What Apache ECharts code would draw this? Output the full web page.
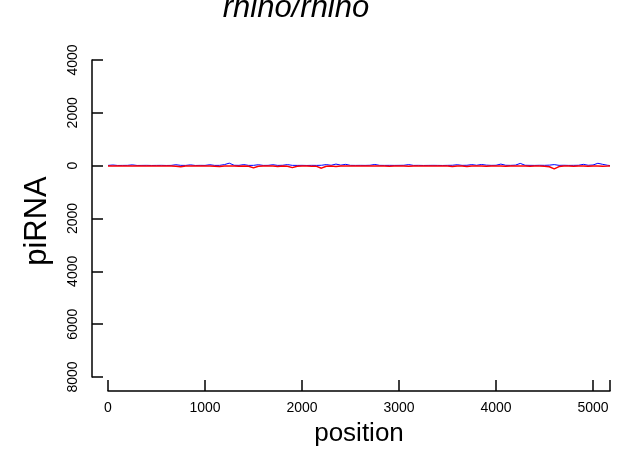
<!DOCTYPE html>
<html>
<head>
<meta charset="utf-8">
<script src="https://cdn.jsdelivr.net/npm/echarts@6/dist/echarts.min.js"></script>
<style>
html,body{margin:0;padding:0;background:#fff;}
#chart{width:620px;height:451px;}
</style>
</head>
<body>
<div id="chart"></div>
<script>
// ---- data ----
var chartTitle = 'rhino/rhino';
var xName = 'position';
var yName = 'piRNA';
var xTickLabels = [0, 1000, 2000, 3000, 4000, 5000];
var yTickLabels = [-8000, -6000, -4000, -2000, 0, 2000, 4000];

var positions = [
  0, 50, 100, 150, 200, 250, 300, 350, 400, 450,
  500, 550, 600, 650, 700, 750, 800, 850, 900, 950,
  1000, 1050, 1100, 1150, 1200, 1250, 1300, 1350, 1400, 1450,
  1500, 1550, 1600, 1650, 1700, 1750, 1800, 1850, 1900, 1950,
  2000, 2050, 2100, 2150, 2200, 2250, 2300, 2350, 2400, 2450,
  2500, 2550, 2600, 2650, 2700, 2750, 2800, 2850, 2900, 2950,
  3000, 3050, 3100, 3150, 3200, 3250, 3300, 3350, 3400, 3450,
  3500, 3550, 3600, 3650, 3700, 3750, 3800, 3850, 3900, 3950,
  4000, 4050, 4100, 4150, 4200, 4250, 4300, 4350, 4400, 4450,
  4500, 4550, 4600, 4650, 4700, 4750, 4800, 4850, 4900, 4950,
  5000, 5050, 5100, 5150, 5175
];

// sense-strand reads (blue, plotted upward)
var plusReads = [
  10, 25, 8, 10, 12, 30, 8, 10, 12, 8,
  10, 12, 8, 10, 35, 12, 10, 30, 8, 12,
  10, 35, 10, 12, 40, 95, 15, 12, 40, 10,
  12, 35, 10, 12, 35, 10, 15, 40, 12, 10,
  12, 8, 12, 10, 15, 40, 15, 60, 20, 50,
  12, 10, 12, 10, 15, 45, 12, 10, 12, 10,
  12, 15, 40, 10, 12, 8, 10, 12, 10, 8,
  12, 15, 35, 12, 15, 40, 15, 45, 20, 12,
  15, 60, 15, 12, 20, 85, 15, 12, 10, 15,
  12, 20, 40, 12, 15, 10, 12, 15, 50, 15,
  25, 90, 50, 15, 5
];

// antisense-strand reads (red, plotted downward)
var minusReads = [
  -10, -15, -12, -10, -15, -12, -10, -15, -12, -10,
  -15, -12, -10, -15, -20, -45, -15, -12, -10, -15,
  -12, -15, -20, -35, -15, -12, -15, -20, -12, -25,
  -85, -20, -15, -12, -15, -30, -15, -25, -75, -20,
  -15, -12, -20, -25, -95, -20, -15, -30, -15, -12,
  -15, -10, -12, -15, -10, -15, -12, -15, -20, -15,
  -12, -15, -20, -12, -15, -10, -12, -15, -12, -10,
  -15, -30, -15, -12, -30, -15, -12, -15, -25, -12,
  -15, -12, -20, -15, -12, -15, -12, -20, -15, -12,
  -20, -40, -120, -35, -15, -12, -20, -15, -12, -25,
  -15, -12, -20, -15, -10
];

var xMax = positions[positions.length - 1];

function pairs(xs, ys) {
  var out = [];
  for (var i = 0; i < xs.length; i++) out.push([xs[i], ys[i]]);
  return out;
}

var FONT = '"Liberation Sans", Arial, Helvetica, sans-serif';
var chart = echarts.init(document.getElementById('chart'), null, {renderer: 'canvas'});
chart.setOption({
  animation: false,
  backgroundColor: '#ffffff',
  grid: {left: 108, right: 10, top: 60, bottom: 74, containLabel: false},
  xAxis: {
    type: 'value',
    min: 0,
    max: xMax,
    interval: xTickLabels[1] - xTickLabels[0],
    offset: 14,
    position: 'bottom',
    splitLine: {show: false},
    axisLine: {show: true, onZero: false, lineStyle: {color: '#000', width: 1.5}},
    axisTick: {show: true, inside: true, length: 11, lineStyle: {color: '#000', width: 1.5}},
    axisLabel: {
      show: true, color: '#000', fontSize: 14, fontFamily: FONT, margin: 10,
      formatter: function (v) { return xTickLabels.indexOf(v) >= 0 ? String(v) : ''; }
    }
  },
  yAxis: {
    type: 'value',
    min: yTickLabels[0],
    max: yTickLabels[yTickLabels.length - 1],
    interval: yTickLabels[1] - yTickLabels[0],
    offset: 16,
    position: 'left',
    splitLine: {show: false},
    axisLine: {show: true, onZero: false, lineStyle: {color: '#000', width: 1.5}},
    axisTick: {show: true, inside: true, length: 11, lineStyle: {color: '#000', width: 1.5}},
    axisLabel: {
      show: true, color: '#000', fontSize: 14, fontFamily: FONT, margin: 12, rotate: 90,
      formatter: function (v) { return String(Math.abs(v)); }
    }
  },
  graphic: [
    {type: 'text', x: 296, y: 8,
     style: {text: chartTitle, font: 'italic 31px ' + FONT, fill: '#000', textAlign: 'center', textVerticalAlign: 'middle'}},
    {type: 'text', x: 359, y: 434,
     style: {text: xName, font: '26px ' + FONT, fill: '#000', textAlign: 'center', textVerticalAlign: 'middle'}},
    {type: 'text', x: 37, y: 221, rotation: Math.PI / 2,
     style: {text: yName, font: '31px ' + FONT, fill: '#000', textAlign: 'center', textVerticalAlign: 'middle'}}
  ],
  series: [
    {type: 'line', name: 'plus', data: pairs(positions, plusReads), showSymbol: false,
     lineStyle: {color: '#0000ff', width: 1}, itemStyle: {color: '#0000ff'}, z: 2},
    {type: 'line', name: 'minus', data: pairs(positions, minusReads), showSymbol: false,
     lineStyle: {color: '#ff0000', width: 1.5}, itemStyle: {color: '#ff0000'}, z: 3}
  ]
});
</script>
</body>
</html>
